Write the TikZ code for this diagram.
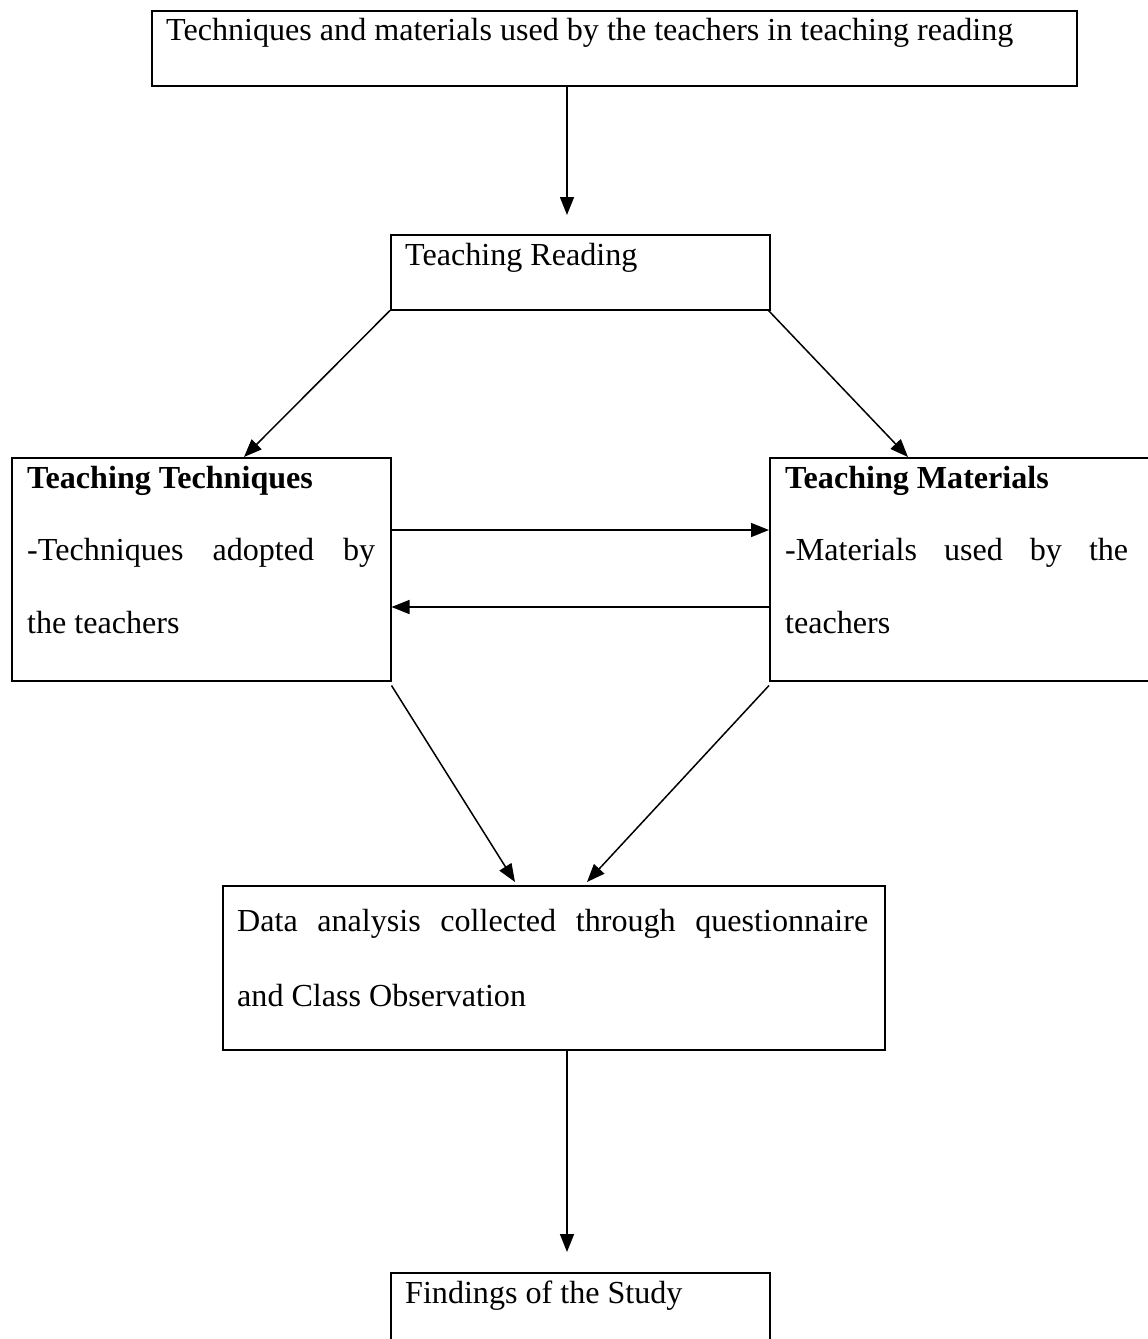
\documentclass[tikz,border=0pt]{standalone}
\usepackage{fontspec}
\setmainfont{Liberation Serif}
\usetikzlibrary{arrows.meta}
\begin{document}
\begin{tikzpicture}[x=1pt,y=-1pt,
  box/.style={draw, line width=1.5pt, anchor=north west, inner sep=0pt},
  txt/.style={anchor=base west, inner sep=0pt, font=\fontsize{32.1}{39}\selectfont},
  arr/.style={line width=1.5pt, -{Triangle[length=18pt,width=14pt]}}]
\useasboundingbox (0,0) rectangle (1148,1339);
% boxes
\node[box, minimum width=925pt, minimum height=75pt] (top) at (151,10) {};
\node[box, minimum width=379pt, minimum height=75pt] (tr) at (390,234) {};
\node[box, minimum width=379pt, minimum height=223pt] (tt) at (11,457) {};
\node[box, minimum width=390pt, minimum height=223pt] (tm) at (769,457) {};
\node[box, minimum width=662pt, minimum height=164pt] (da) at (222,885) {};
\node[box, minimum width=379pt, minimum height=90pt] (fs) at (390,1272) {};
% texts
\node[txt] (topt) at (166,40) {Techniques and materials used by the teachers in teaching reading};
\node[txt] (trt) at (405,265) {Teaching Reading};
\node[txt] (tt1) at (27,488) {\bfseries Teaching Techniques};
\node[txt] (tt2) at (27,560) {\makebox[348pt][s]{-Techniques adopted by}};
\node[txt] (tt3) at (27,633) {the teachers};
\node[txt] (tm1) at (785,488) {\bfseries Teaching Materials};
\node[txt] (tm2) at (785,560) {\makebox[343pt][s]{-Materials used by the}};
\node[txt] (tm3) at (785,633) {teachers};
\node[txt] (da1) at (237,931) {\makebox[631pt][s]{Data analysis collected through questionnaire}};
\node[txt] (da2) at (237,1006) {and Class Observation};
\node[txt] (fst) at (405,1303) {Findings of the Study};
% endpoints
\coordinate (xc) at (567,0);
\coordinate (a2e) at ([xshift=233pt]tt.north west);
\coordinate (a3e) at ([xshift=139pt]tm.north west);
\coordinate (a6e) at ([xshift=293pt,yshift=3pt]da.north west);
\coordinate (a7e) at ([xshift=365pt,yshift=3pt]da.north west);
% arrows
\draw[arr] (top.south -| xc) -- ([yshift=19pt]tr.north -| xc);
\draw[arr] (tr.south west) -- (a2e);
\draw[arr] ([xshift=-2pt]tr.south east) -- (a3e);
\draw[arr] ([yshift=-73pt]tt.north east) -- ([yshift=-73pt]tm.north west);
\draw[arr] ([yshift=-150pt]tm.north west) -- ([yshift=-150pt]tt.north east);
\draw[arr] ([yshift=-4pt]tt.south east) -- (a6e);
\draw[arr] ([yshift=-4pt]tm.south west) -- (a7e);
\draw[arr] (da.south -| xc) -- ([yshift=20pt]fs.north -| xc);
\end{tikzpicture}
\end{document}
